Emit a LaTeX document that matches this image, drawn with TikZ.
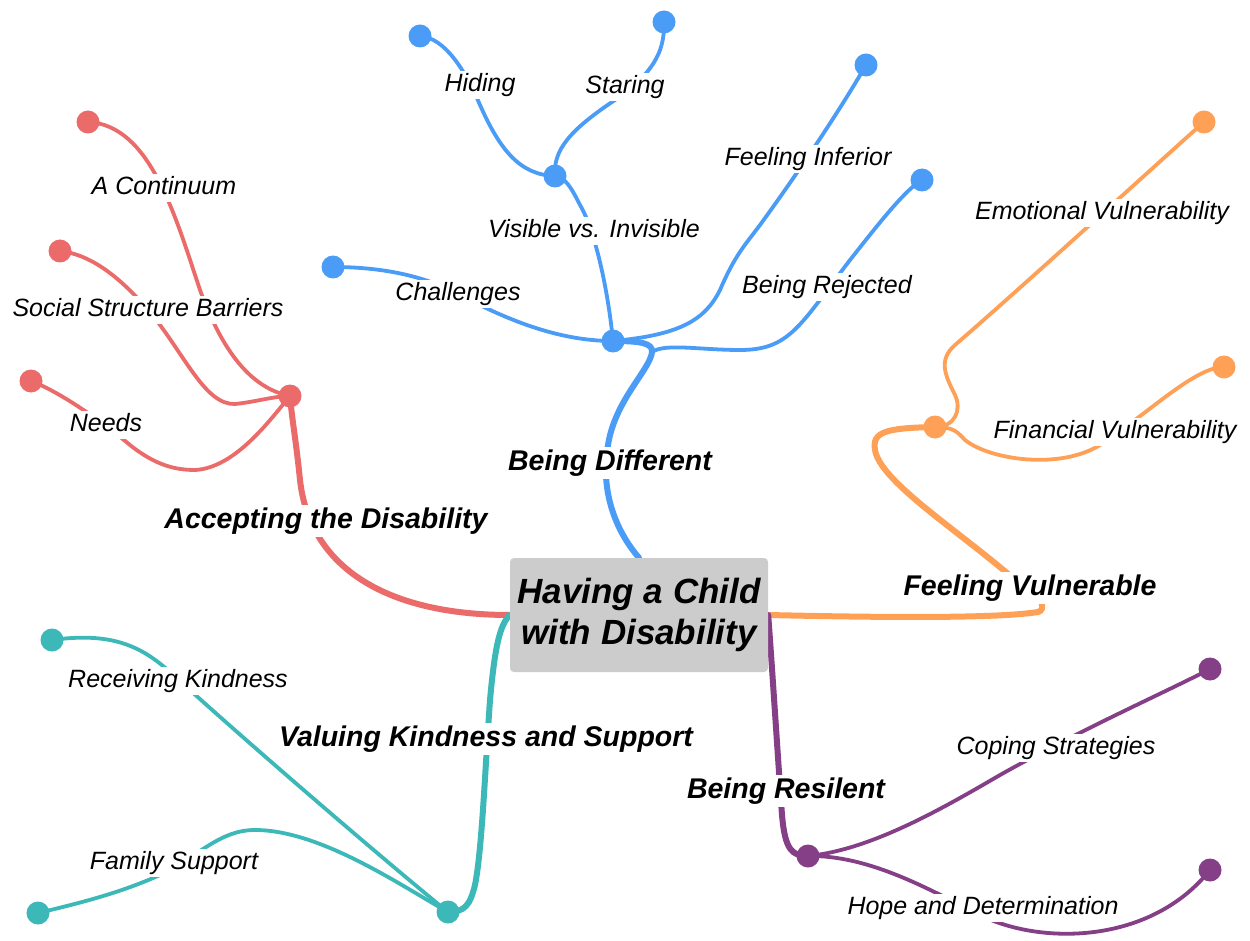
\documentclass[tikz,border=0pt]{standalone}
\usepackage{fontspec}
\setmainfont{Liberation Sans}
\usetikzlibrary{backgrounds}
\definecolor{cred}{HTML}{EB6B6B}
\definecolor{cblue}{HTML}{4A9CF6}
\definecolor{corange}{HTML}{FFA057}
\definecolor{cteal}{HTML}{3DB8B8}
\definecolor{cpurple}{HTML}{843F87}
\definecolor{boxgray}{HTML}{CCCCCC}
\begin{document}
\begin{tikzpicture}[x=1pt,y=-1pt,
  sub/.style={line width=3.8pt, line cap=round},
  trunk/.style={line width=6pt, line cap=round},
  lbl/.style={fill=white, inner sep=2pt, font=\fontsize{25}{30}\selectfont\itshape, text height=18.5pt, text depth=5.5pt},
  blbl/.style={fill=white, inner sep=2pt, font=\fontsize{28.5}{34}\selectfont\bfseries\itshape, text height=21pt, text depth=6.5pt},
  dot/.style={circle, fill=#1, minimum size=23pt, inner sep=0pt}]
\useasboundingbox (0,0) rectangle (1250,941);

% central topic
\node[fill=boxgray, rounded corners=4pt, minimum width=258pt, minimum height=114pt, align=center,
      font=\fontsize{35}{41}\selectfont\bfseries\itshape] (root) at (639,615) {Having a Child\\with Disability};

% ---------- dots ----------
\node[dot=cred] (rh) at (290,396) {};
\node[dot=cred] (r1) at (88,122) {};
\node[dot=cred] (r2) at (60,251) {};
\node[dot=cred] (r3) at (31,381) {};

\node[dot=cblue] (bh) at (613,341) {};
\node[dot=cblue] (bc) at (333,267) {};
\node[dot=cblue] (bv) at (555,176) {};
\node[dot=cblue] (bhd) at (420,36) {};
\node[dot=cblue] (bst) at (664,22) {};
\node[dot=cblue] (bfi) at (866,65) {};
\node[dot=cblue] (bbr) at (922,180) {};
\coordinate (bjoin) at (652,352);

\node[dot=corange] (oh) at (935,427) {};
\node[dot=corange] (oem) at (1204,122) {};
\node[dot=corange] (ofi) at (1224,367) {};

\node[dot=cteal] (th) at (448,912) {};
\node[dot=cteal] (tr) at (52,640) {};
\node[dot=cteal] (tf) at (38,913) {};

\node[dot=cpurple] (ph) at (808,856) {};
\node[dot=cpurple] (pc) at (1210,669) {};
\node[dot=cpurple] (pd) at (1210,870) {};

% ---------- labels ----------
\node[lbl] (lac) at (164,188) {A Continuum};
\node[lbl] (lssb) at (148,310) {Social Structure Barriers};
\node[lbl] (lne) at (106,425) {Needs};
\node[blbl] (lacc) at (326,521) {Accepting the Disability};

\node[lbl] (lhi) at (480,85) {Hiding};
\node[lbl] (lst) at (625,87) {Staring};
\node[lbl] (lvv) at (594,231) {Visible vs. Invisible};
\node[lbl] (lch) at (458,294) {Challenges};
\node[lbl] (lfi) at (808,159) {Feeling Inferior};
\node[lbl] (lbr) at (827,287) {Being Rejected};
\node[blbl] (lbd) at (610,463) {Being Different};

\node[lbl] (lev) at (1102,213) {Emotional Vulnerability};
\node[lbl] (lfv) at (1115,432) {Financial Vulnerability};
\node[blbl] (lfeel) at (1030,588) {Feeling Vulnerable};

\node[lbl] (lrk) at (178,681) {Receiving Kindness};
\node[lbl] (lfs) at (174,863) {Family Support};
\node[blbl] (lvk) at (486,739) {Valuing Kindness and Support};

\node[lbl] (lcs) at (1056,748) {Coping Strategies};
\node[lbl] (lhd) at (983,908) {Hope and Determination};
\node[blbl] (lres) at (786,791) {Being Resilent};

% ---------- connectors ----------
\begin{scope}[on background layer]
\fill[white] (0,0) rectangle (1250,941);

% red
\draw[trunk,cred] (root.west) .. controls (390,615) and (310,570) .. (300,480) .. controls (296,440) and (292,420) .. (rh.center);
\draw[sub,cred] (rh.center) .. controls (250,388) and (222,350) .. (200,290) .. controls (175,215) and (150,125) .. (r1.center);
\draw[sub,cred] (r2.center) .. controls (95,255) and (125,283) .. (150,312) .. controls (185,355) and (205,405) .. (235,404) .. controls (255,402) and (275,396) .. (rh.center);
\draw[sub,cred] (r3.center) .. controls (60,392) and (100,420) .. (130,445) .. controls (155,465) and (175,470) .. (195,470) .. controls (235,468) and (270,420) .. (rh.center);

% blue
\draw[trunk,cblue] (root.north) .. controls (615,530) and (600,490) .. (608,445) .. controls (615,400) and (650,370) .. (652,352) .. controls (653,343) and (640,341) .. (bh.center);
\draw[sub,cblue] (bc.center) .. controls (380,267) and (420,275) .. (455,292) .. controls (520,328) and (570,341) .. (bh.center);
\draw[sub,cblue] (bh.center) .. controls (608,290) and (595,230) .. (580,205) .. controls (570,185) and (565,178) .. (bv.center);
\draw[sub,cblue] (bhd.center) .. controls (445,38) and (465,70) .. (480,105) .. controls (500,150) and (520,175) .. (bv.center);
\draw[sub,cblue] (bst.center) .. controls (665,55) and (650,75) .. (615,100) .. controls (570,130) and (553,150) .. (bv.center);
\draw[sub,cblue] (bh.center) .. controls (680,335) and (705,320) .. (720,290) .. controls (735,255) and (745,245) .. (760,225) .. controls (800,170) and (840,110) .. (bfi.center);
\draw[sub,cblue] (bbr.center) .. controls (905,190) and (880,222) .. (850,260) .. controls (800,325) and (790,350) .. (740,350) .. controls (700,350) and (665,343) .. (bjoin);

% orange
\draw[trunk,corange] (root.east) .. controls (900,618) and (1000,618) .. (1038,612) .. controls (1046,610) and (1042,598) .. (1030,590) .. controls (1015,580) and (1010,576) .. (1007,573) .. controls (950,525) and (880,480) .. (875,450) .. controls (872,432) and (885,428) .. (oh.center);
\draw[sub,corange] (oh.center) .. controls (955,427) and (962,410) .. (955,395) .. controls (945,375) and (938,360) .. (955,345) .. controls (1030,280) and (1150,170) .. (oem.center);
\draw[sub,corange] (oh.center) .. controls (955,427) and (958,433) .. (965,440) .. controls (990,460) and (1060,470) .. (1100,445) .. controls (1150,412) and (1195,367) .. (ofi.center);

% teal
\draw[trunk,cteal] (root.west) .. controls (500,625) and (495,645) .. (490,700) .. controls (485,770) and (482,850) .. (475,885) .. controls (470,905) and (465,912) .. (th.center);
\draw[sub,cteal] (tr.center) .. controls (110,632) and (140,645) .. (170,672) .. controls (250,745) and (390,865) .. (th.center);
\draw[sub,cteal] (tf.center) .. controls (80,903) and (120,893) .. (160,875) .. controls (200,855) and (220,830) .. (255,830) .. controls (320,830) and (400,885) .. (th.center);

% purple
\draw[trunk,cpurple] (root.east) .. controls (773,680) and (778,760) .. (782,815) .. controls (785,850) and (792,856) .. (ph.center);
\draw[sub,cpurple] (ph.center) .. controls (870,850) and (940,810) .. (1000,775) .. controls (1080,730) and (1170,690) .. (pc.center);
\draw[sub,cpurple] (ph.center) .. controls (870,855) and (930,890) .. (980,915) .. controls (1040,945) and (1150,945) .. (pd.center);
\end{scope}
\end{tikzpicture}
\end{document}
